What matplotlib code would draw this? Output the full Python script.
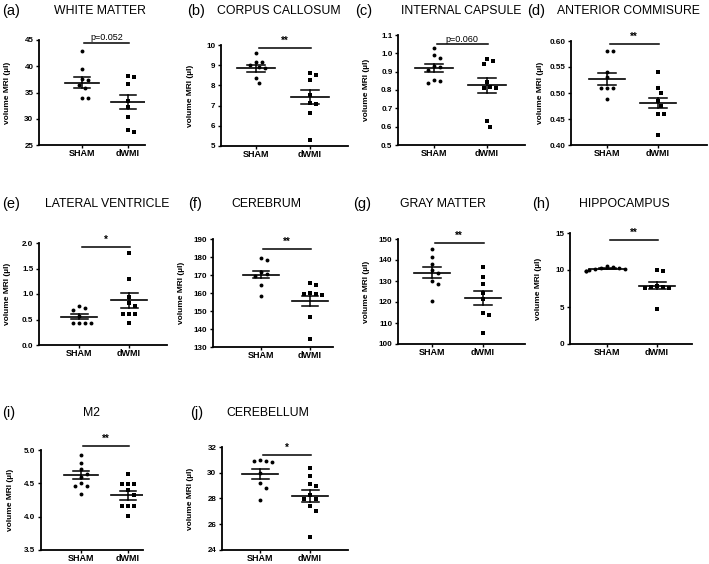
import matplotlib

matplotlib.use("Agg")
import matplotlib.pyplot as plt
import numpy as np

plt.rcParams["font.family"] = ["Liberation Sans", "DejaVu Sans"]

W, H = 709, 564

GROUPS = ["SHAM", "dWMI"]
LETTERS = ["(a)", "(b)", "(c)", "(d)", "(e)", "(f)", "(g)", "(h)", "(i)", "(j)"]
TITLES = [
    "WHITE MATTER",
    "CORPUS CALLOSUM",
    "INTERNAL CAPSULE",
    "ANTERIOR COMMISURE",
    "LATERAL VENTRICLE",
    "CEREBRUM",
    "GRAY MATTER",
    "HIPPOCAMPUS",
    "M2",
    "CEREBELLUM",
]

SHAM = [
    [42.9, 39.4, 37.5, 37.3, 36.5, 35.8, 34.0, 34.0],
    [9.62, 9.18, 9.15, 9.0, 8.9, 8.85, 8.39, 8.13],
    [1.03, 0.99, 0.975, 0.93, 0.925, 0.91, 0.855, 0.85, 0.84],
    [0.58, 0.58, 0.541, 0.53, 0.51, 0.51, 0.51, 0.489],
    [0.77, 0.72, 0.69, 0.57, 0.43, 0.43, 0.43, 0.43],
    [179.3, 178.5, 171.5, 170.5, 169.5, 164.5, 158.5],
    [145.2, 141.2, 138.2, 135.3, 134.0, 129.8, 128.8, 120.7],
    [10.5, 10.4, 10.3, 10.3, 10.2, 10.1, 10.0, 9.9, 9.8],
    [4.93, 4.81, 4.71, 4.64, 4.60, 4.51, 4.46, 4.46, 4.34],
    [30.97, 30.92, 30.92, 30.8, 29.95, 29.2, 28.85, 27.9],
]
DWMI = [
    [38.1, 37.9, 36.6, 33.4, 32.2, 30.3, 27.9, 27.5],
    [8.59, 8.51, 8.26, 7.5, 7.15, 7.1, 6.64, 5.31],
    [0.97, 0.96, 0.94, 0.845, 0.815, 0.81, 0.81, 0.63, 0.60],
    [0.54, 0.51, 0.50, 0.485, 0.475, 0.46, 0.46, 0.42],
    [1.80, 1.30, 0.95, 0.82, 0.77, 0.61, 0.61, 0.61, 0.43],
    [165.6, 164.5, 159.8, 159.6, 159.2, 158.8, 146.6, 134.3],
    [136.5, 131.8, 128.7, 124.5, 121.5, 115.0, 113.9, 105.1],
    [10.0, 9.8, 7.9, 7.7, 7.7, 7.6, 7.6, 4.75],
    [4.64, 4.49, 4.49, 4.49, 4.40, 4.33, 4.16, 4.16, 4.16, 4.01],
    [30.4, 29.77, 29.13, 28.97, 28.3, 27.97, 27.97, 27.38, 27.05, 25.0],
]

SHAM_MEAN = [36.9, 8.84, 0.922, 0.527, 0.557, 170.2, 134.0, 10.2, 4.62, 29.9]
SHAM_SEM = [1.1, 0.17, 0.022, 0.011, 0.045, 2.0, 2.5, 0.1, 0.06, 0.38]
DWMI_MEAN = [33.2, 7.43, 0.827, 0.481, 0.875, 155.6, 121.9, 7.88, 4.32, 28.2]
DWMI_SEM = [1.4, 0.34, 0.041, 0.010, 0.145, 2.7, 3.3, 0.45, 0.065, 0.48]

Y_RANGES = [
    (25, 45, 5),
    (5, 10, 1),
    (0.5, 1.1, 0.1),
    (0.40, 0.60, 0.05),
    (0.0, 2.0, 0.5),
    (130, 190, 10),
    (100, 150, 10),
    (0, 15, 5),
    (3.5, 5.0, 0.5),
    (24, 32, 2),
]
TICK_FMT = ["%d", "%d", "%.1f", "%.2f", "%.1f", "%d", "%d", "%d", "%.1f", "%d"]

SIG_TEXT = ["p=0.052", "**", "p=0.060", "**", "*", "**", "**", "**", "**", "*"]
SIG_Y = [44.5, 9.87, 1.049, 0.595, 1.93, 184.4, 148.1, 14.1, 5.06, 31.36]

# layout in figure pixels: left, top, right, bottom, x of SHAM, x of dWMI
BOXES = [
    (39, 40, 145, 145, 82, 128),
    (221, 45, 348, 146, 256, 310),
    (398, 35, 525, 145, 434, 487),
    (571, 41, 707, 145, 607, 658),
    (39, 243, 167, 345, 79, 129),
    (213, 239, 333, 347, 261, 310),
    (398, 239, 525, 344, 432, 483),
    (570, 233, 692, 344, 607, 657),
    (41, 450, 143, 550, 81, 128),
    (222, 447, 348, 550, 260, 310),
]
# panel letter x, title centre x, y
HEADS = [
    (2, 100, 11),
    (187, 279, 11),
    (355, 461, 11),
    (527, 628, 11),
    (2, 107, 204),
    (188, 266, 204),
    (353, 443, 204),
    (532, 624, 204),
    (2, 92, 413),
    (190, 268, 413),
]


def swarm(ax, values, spacing_px=6.0):
    """Greedy beeswarm offsets (data units of x) for one column."""
    bb = ax.get_window_extent()
    x0, x1 = ax.get_xlim()
    y0, y1 = ax.get_ylim()
    ppx = bb.width / (x1 - x0)
    ppy = bb.height / (y1 - y0)
    steps = [0.0]
    for k in range(1, 8):
        steps += [k * 0.5, -k * 0.5]
    placed = []
    offs = []
    for v in values:
        py = v * ppy
        for s in steps:
            px = s * spacing_px
            if all((px - qx) ** 2 + (py - qy) ** 2 >= spacing_px**2 * 0.9 for qx, qy in placed):
                break
        placed.append((px, py))
        offs.append(px / ppx)
    return offs


fig = plt.figure(figsize=(W / 100, H / 100), dpi=100)
fig.patch.set_facecolor("white")

for i in range(10):
    left, top, right, bottom, c0, c1 = BOXES[i]
    ax = fig.add_axes([left / W, 1 - bottom / H, (right - left) / W, (bottom - top) / H])
    unit = c1 - c0
    ax.set_xlim((left - c0) / unit, (right - c0) / unit)
    lo, hi, step = Y_RANGES[i]
    ax.set_ylim(lo, hi)
    ticks = np.arange(lo, hi + step / 2, step)
    ax.set_yticks(ticks)
    ax.set_yticklabels([TICK_FMT[i] % t for t in ticks])
    ax.set_xticks([0, 1])
    ax.set_xticklabels(GROUPS)
    for lab in ax.get_xticklabels():
        lab.set_fontweight("bold")
        lab.set_fontsize(6.5)
    for lab in ax.get_yticklabels():
        lab.set_fontweight("bold")
        lab.set_fontsize(5.8)
    ax.tick_params(axis="y", length=2.5, width=1.0, pad=1.5)
    ax.tick_params(axis="x", length=2.0, width=1.0, pad=0.8)
    ax.spines[["top", "right"]].set_visible(False)
    for sp in ("left", "bottom"):
        ax.spines[sp].set_linewidth(1.3)

    groups = [(SHAM[i], SHAM_MEAN[i], SHAM_SEM[i], "o"), (DWMI[i], DWMI_MEAN[i], DWMI_SEM[i], "s")]
    for g, (vals, m, se, mk) in enumerate(groups):
        offs = swarm(ax, vals)
        ax.plot(np.array(offs) + g, vals, linestyle="none", marker=mk,
                markersize=2.8, color="black", markeredgewidth=0, zorder=3, clip_on=False)
        ax.plot([g - 0.36, g + 0.36], [m, m], color="black", lw=1.2, zorder=4)
        ax.plot([g, g], [m - se, m + se], color="black", lw=1.1, zorder=4)
        for e in (m - se, m + se):
            ax.plot([g - 0.17, g + 0.17], [e, e], color="black", lw=1.1, zorder=4)

    # significance bar
    ax.plot([0.05, 1.02], [SIG_Y[i], SIG_Y[i]], color="black", lw=1.1, clip_on=False)
    txt = SIG_TEXT[i]
    if txt.startswith("p"):
        ax.annotate(txt, (0.53, SIG_Y[i]), xytext=(0, 0.5), textcoords="offset points",
                    ha="center", va="bottom", fontsize=6.5, annotation_clip=False)
    else:
        ax.annotate(txt, (0.53, SIG_Y[i]), xytext=(0, 1.5), textcoords="offset points",
                    ha="center", va="bottom", fontsize=7, fontweight="bold",
                    annotation_clip=False)

    # y label, placed at fixed pixel distance from the spine
    ax.text(-31 / (right - left), 0.5, "volume MRI (µl)", transform=ax.transAxes,
            rotation=90, ha="center", va="center", fontsize=6, fontweight="bold")

    lx, tx, ty = HEADS[i]
    fig.text(lx / W, 1 - ty / H, LETTERS[i], ha="left", va="center", fontsize=10.5)
    fig.text(tx / W, 1 - ty / H, TITLES[i], ha="center", va="center", fontsize=8.8)

fig.savefig("out.png", dpi=100, facecolor="white")
